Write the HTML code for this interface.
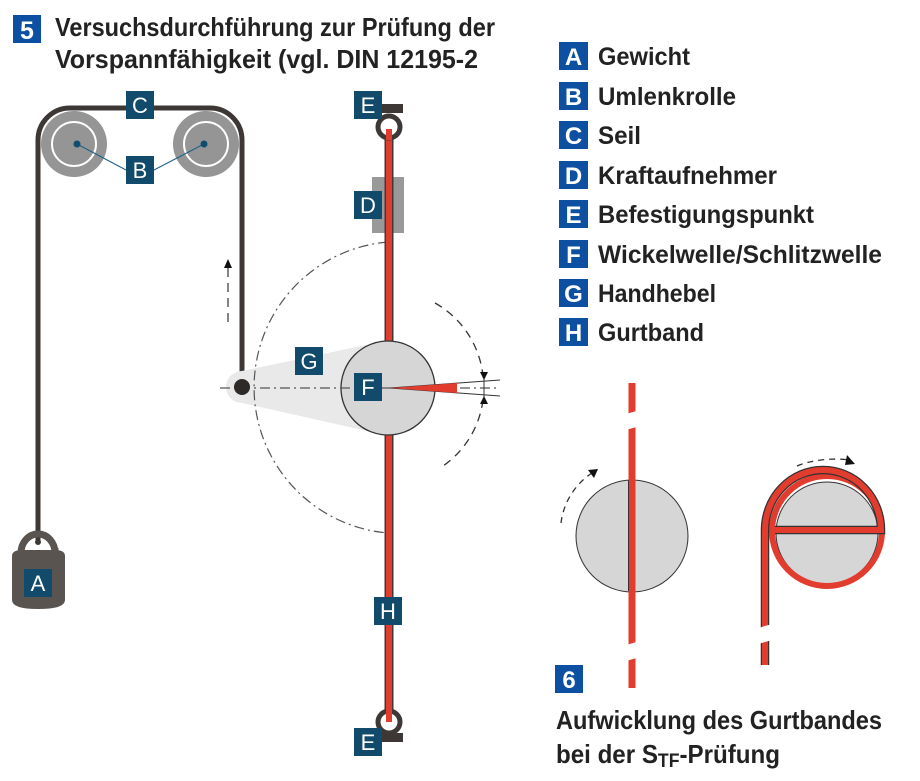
<!DOCTYPE html>
<html><head><meta charset="utf-8"><style>
html,body{margin:0;padding:0;background:#fff}
svg{display:block}
.t{font-family:"Liberation Sans Narrow","Liberation Sans",sans-serif;font-weight:bold;fill:#222}
.n{font-family:"Liberation Sans Narrow","Liberation Sans",sans-serif;font-weight:bold;fill:#fff}
.l{font-family:"Liberation Sans",sans-serif;fill:#fff;font-size:22px}
</style></head><body>
<svg width="920" height="781" viewBox="0 0 920 781" xmlns="http://www.w3.org/2000/svg">
<!-- title -->
<rect x="13" y="15" width="28" height="28" fill="#0d4fa0"/>
<text class="n" x="27" y="39" font-size="25" text-anchor="middle">5</text>
<text class="t" x="55" y="36" font-size="26" textLength="440" lengthAdjust="spacingAndGlyphs">Versuchsdurchführung zur Prüfung der</text>
<text class="t" x="55" y="68" font-size="26" textLength="423" lengthAdjust="spacingAndGlyphs">Vorspannfähigkeit (vgl. DIN 12195-2</text>

<!-- legend -->
<g>
<rect x="559" y="42" width="29" height="28" fill="#0d4fa0"/><text class="n" x="573.5" y="65" font-size="24" text-anchor="middle">A</text>
<text class="t" x="598" y="65" font-size="25" textLength="92" lengthAdjust="spacingAndGlyphs">Gewicht</text>
<rect x="559" y="82" width="29" height="28" fill="#0d4fa0"/><text class="n" x="573.5" y="105" font-size="24" text-anchor="middle">B</text>
<text class="t" x="598" y="105" font-size="25" textLength="138" lengthAdjust="spacingAndGlyphs">Umlenkrolle</text>
<rect x="559" y="121" width="29" height="28" fill="#0d4fa0"/><text class="n" x="573.5" y="144" font-size="24" text-anchor="middle">C</text>
<text class="t" x="598" y="144" font-size="25" textLength="43" lengthAdjust="spacingAndGlyphs">Seil</text>
<rect x="559" y="161" width="29" height="28" fill="#0d4fa0"/><text class="n" x="573.5" y="184" font-size="24" text-anchor="middle">D</text>
<text class="t" x="598" y="184" font-size="25" textLength="179" lengthAdjust="spacingAndGlyphs">Kraftaufnehmer</text>
<rect x="559" y="200" width="29" height="28" fill="#0d4fa0"/><text class="n" x="573.5" y="223" font-size="24" text-anchor="middle">E</text>
<text class="t" x="598" y="223" font-size="25" textLength="216" lengthAdjust="spacingAndGlyphs">Befestigungspunkt</text>
<rect x="559" y="240" width="29" height="28" fill="#0d4fa0"/><text class="n" x="573.5" y="263" font-size="24" text-anchor="middle">F</text>
<text class="t" x="598" y="263" font-size="25" textLength="284" lengthAdjust="spacingAndGlyphs">Wickelwelle/Schlitzwelle</text>
<rect x="559" y="279" width="29" height="28" fill="#0d4fa0"/><text class="n" x="573.5" y="302" font-size="24" text-anchor="middle">G</text>
<text class="t" x="598" y="302" font-size="25" textLength="118" lengthAdjust="spacingAndGlyphs">Handhebel</text>
<rect x="559" y="318" width="29" height="28" fill="#0d4fa0"/><text class="n" x="573.5" y="341" font-size="24" text-anchor="middle">H</text>
<text class="t" x="598" y="341" font-size="25" textLength="106" lengthAdjust="spacingAndGlyphs">Gurtband</text>
</g>

<!-- rope -->
<path d="M38,540 L38,140 A32,32 0 0 1 70,108 L210,108 A32,32 0 0 1 242,140 L242,387" fill="none" stroke="#3d3835" stroke-width="5"/>
<!-- pulleys -->
<circle cx="74" cy="144" r="33" fill="#959595"/><circle cx="74" cy="144" r="22" fill="none" stroke="#fff" stroke-width="2"/>
<circle cx="206" cy="144" r="33" fill="#959595"/><circle cx="206" cy="144" r="22" fill="none" stroke="#fff" stroke-width="2"/>
<line x1="77" y1="144" x2="126" y2="170" stroke="#1f5f85" stroke-width="1"/>
<line x1="204" y1="144" x2="154" y2="170" stroke="#1f5f85" stroke-width="1"/>
<circle cx="77" cy="144" r="3.5" fill="#134d6e"/><circle cx="204" cy="144" r="3.5" fill="#134d6e"/>
<rect x="126" y="91" width="28" height="28" fill="#124a6b"/><text class="l" x="140" y="113" text-anchor="middle">C</text>
<rect x="126" y="156" width="28" height="28" fill="#124a6b"/><text class="l" x="140" y="178" text-anchor="middle">B</text>

<!-- weight -->
<path d="M21,553 A17,19 0 0 1 55,553 L55,548 M21,553" fill="none" stroke="#5a5450" stroke-width="7"/>
<path d="M12,556 Q12,550 22,550 L55,550 Q65,550 65,556 L65,600 Q65,609 38,609 Q12,609 12,600 Z" fill="#5a5450"/>
<circle cx="38" cy="542" r="3" fill="#3d3835"/>
<rect x="24" y="569" width="28" height="28" fill="#124a6b"/><text class="l" x="38" y="591" text-anchor="middle">A</text>

<!-- lever G -->
<path d="M242,371 L385,341 L385,435 L242,403 A16,16 0 0 1 242,371 Z" fill="#e9e9e9"/>
<!-- dash-dot arc -->
<path d="M388,242 A146,146 0 0 0 388,533" fill="none" stroke="#555" stroke-width="1.2" stroke-dasharray="10,4,2,4"/>
<!-- red band -->
<line x1="389" y1="127" x2="389" y2="722" stroke="#3a3a3a" stroke-width="9"/>
<line x1="389" y1="127" x2="389" y2="722" stroke="#e23c2f" stroke-width="6"/>
<!-- D -->
<rect x="372" y="177" width="32" height="56" fill="#999"/>
<line x1="389" y1="177" x2="389" y2="233" stroke="#3a3a3a" stroke-width="9"/>
<line x1="389" y1="177" x2="389" y2="233" stroke="#e23c2f" stroke-width="6"/>
<rect x="354" y="191" width="28" height="28" fill="#124a6b"/><text class="l" x="368" y="213" text-anchor="middle">D</text>
<!-- top E -->
<rect x="382" y="104" width="21" height="9" fill="#3d3835"/>
<circle cx="389" cy="127" r="11" fill="#fff" stroke="#3d3835" stroke-width="5"/>
<line x1="389" y1="129" x2="389" y2="140" stroke="#e23c2f" stroke-width="6"/>
<rect x="354" y="91" width="28" height="28" fill="#124a6b"/><text class="l" x="368" y="113" text-anchor="middle">E</text>
<!-- bottom E -->
<rect x="382" y="733" width="21" height="9" fill="#3d3835"/>
<circle cx="389" cy="722" r="11" fill="#fff" stroke="#3d3835" stroke-width="5"/>
<line x1="389" y1="708" x2="389" y2="722" stroke="#e23c2f" stroke-width="6"/>
<rect x="354" y="728" width="28" height="28" fill="#124a6b"/><text class="l" x="368" y="750" text-anchor="middle">E</text>
<!-- H -->
<rect x="374" y="597" width="28" height="28" fill="#124a6b"/><text class="l" x="388" y="619" text-anchor="middle">H</text>
<!-- circle F -->
<circle cx="388" cy="388" r="47" fill="#d6d6d6" stroke="#333" stroke-width="1.3"/>
<line x1="220" y1="388" x2="500" y2="388" stroke="#555" stroke-width="1.2" stroke-dasharray="10,4,2,4"/>
<circle cx="242" cy="387" r="8" fill="#2e2a28"/>
<rect x="295" y="347" width="28" height="28" fill="#124a6b"/><text class="l" x="309" y="369" text-anchor="middle">G</text>
<rect x="354" y="373" width="28" height="28" fill="#124a6b"/><text class="l" x="368" y="395" text-anchor="middle">F</text>
<!-- needle -->
<line x1="390" y1="388" x2="500" y2="380" stroke="#333" stroke-width="1"/>
<line x1="390" y1="388" x2="500" y2="396" stroke="#333" stroke-width="1"/>
<polygon points="390,388 457,383 457,393" fill="#e23c2f"/>
<line x1="484" y1="378" x2="484" y2="398" stroke="#333" stroke-width="1"/>
<!-- right dashed arc -->
<path d="M435,303 A95,95 0 0 1 483,376" fill="none" stroke="#333" stroke-width="1.3" stroke-dasharray="8,6"/>
<path d="M483,400 A95,95 0 0 1 440,468" fill="none" stroke="#333" stroke-width="1.3" stroke-dasharray="8,6"/>
<polygon points="480,372 488,372 484,380" fill="#111"/>
<polygon points="480,404 488,404 484,396" fill="#111"/>
<!-- up arrow -->
<line x1="228" y1="322" x2="228" y2="266" stroke="#333" stroke-width="1.2" stroke-dasharray="9,6"/>
<polygon points="224,268 232,268 228,259" fill="#111"/>

<!-- figure 6 left -->
<circle cx="632" cy="536" r="56" fill="#d6d6d6" stroke="#333" stroke-width="1"/>
<line x1="632" y1="383" x2="632" y2="688" stroke="#e23c2f" stroke-width="7"/>
<line x1="628.5" y1="480" x2="628.5" y2="591" stroke="#333" stroke-width="1"/>
<polygon points="626,414 640,410 640,426 626,430" fill="#fff"/>
<polygon points="626,645 640,641 640,657 626,661" fill="#fff"/>
<path d="M561,523 A70,70 0 0 1 592,473" fill="none" stroke="#333" stroke-width="1.3" stroke-dasharray="6,5"/>
<polygon points="588,470 598,469 594,478" fill="#111"/>
<!-- figure 6 right -->
<circle cx="827" cy="533" r="51" fill="#d6d6d6" stroke="#333" stroke-width="1"/>
<circle cx="827" cy="531" r="55" fill="none" stroke="#e23c2f" stroke-width="6"/>
<path d="M765,665 L765,530 A58,60 0 0 1 881,530 L775,530" fill="none" stroke="#333" stroke-width="8.5"/>
<path d="M765,665 L765,530 A58,60 0 0 1 881,530 L775,530" fill="none" stroke="#e23c2f" stroke-width="6"/>
<polygon points="758,628 772,624 772,640 758,644" fill="#fff"/>
<path d="M797,466 A60,30 0 0 1 850,460" fill="none" stroke="#333" stroke-width="1.3" stroke-dasharray="6,5"/>
<polygon points="847,455 855,464 845,465" fill="#111"/>
<!-- 6 -->
<rect x="555" y="665" width="28" height="28" fill="#0d4fa0"/>
<text class="n" x="569" y="688" font-size="24" text-anchor="middle">6</text>
<text class="t" x="556" y="729" font-size="26" textLength="326" lengthAdjust="spacingAndGlyphs">Aufwicklung des Gurtbandes</text>
<text class="t" x="556" y="763" font-size="26" textLength="224" lengthAdjust="spacingAndGlyphs">bei der S<tspan font-size="19" dy="4">TF</tspan><tspan dy="-4">-Prüfung</tspan></text>
</svg>
</body></html>
